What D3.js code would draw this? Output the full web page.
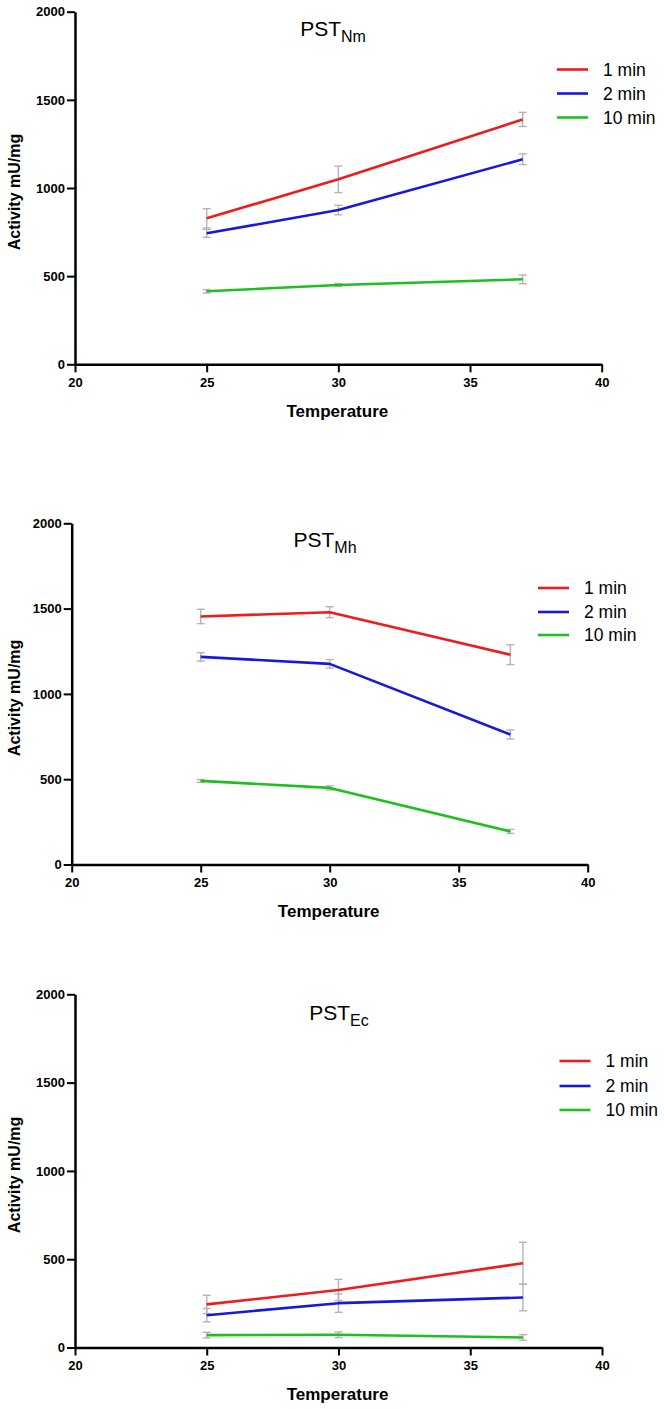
<!DOCTYPE html>
<html>
<head>
<meta charset="utf-8">
<script src="https://cdn.jsdelivr.net/npm/d3@7"></script>
<style>
  html, body { margin: 0; padding: 0; background: #fff; }
  svg { display: block; }
  text { font-family: "Liberation Sans", Arial, sans-serif; }
</style>
</head>
<body>
<svg id="chart" width="664" height="1409"></svg>
<script>
// ---- data ----
const temperatures = [25, 30, 37];
const seriesNames = ["1 min", "2 min", "10 min"];
const xTicks = [20, 25, 30, 35, 40];
const yTicks = [0, 500, 1000, 1500, 2000];
const panelTitles = ["PST", "PST", "PST"];
const panelSubscripts = ["Nm", "Mh", "Ec"];

// PST_Nm
const nm1 = [828, 1049, 1389];
const nm1Err = [55, 75, 40];
const nm2 = [743, 875, 1163];
const nm2Err = [23, 27, 30];
const nm10 = [414, 450, 482];
const nm10Err = [10, 8, 25];

// PST_Mh
const mh1 = [1454, 1479, 1230];
const mh1Err = [42, 32, 58];
const mh2 = [1217, 1176, 762];
const mh2Err = [25, 25, 26];
const mh10 = [490, 449, 194];
const mh10Err = [8, 12, 12];

// PST_Ec
const ec1 = [244, 326, 477];
const ec1Err = [52, 60, 119];
const ec2 = [183, 251, 283];
const ec2Err = [38, 52, 75];
const ec10 = [70, 72, 57];
const ec10Err = [16, 16, 16];

const panelValues = [[nm1, nm2, nm10], [mh1, mh2, mh10], [ec1, ec2, ec10]];
const panelErrors = [[nm1Err, nm2Err, nm10Err], [mh1Err, mh2Err, mh10Err], [ec1Err, ec2Err, ec10Err]];

// ---- layout / style ----
const colors = ["#ee1c1c", "#1818dc", "#1fbf1f"];
const layouts = [
  { left: 75, right: 601.7, top: 11.7, bottom: 364.3, titleX: 333, titleY: 36,
    legX: 557, legY: [69.5, 93.5, 117.5] },
  { left: 71.7, right: 587.7, top: 523.3, bottom: 864.5, titleX: 325, titleY: 547,
    legX: 538, legY: [588, 612, 635] },
  { left: 75, right: 602, top: 994.3, bottom: 1347.5, titleX: 339, titleY: 1019.5,
    legX: 559.5, legY: [1061, 1086, 1110] }
];

const svg = d3.select("#chart");

layouts.forEach((L, p) => {
  const g = svg.append("g");
  const x = d3.scaleLinear().domain([20, 40]).range([L.left, L.right]);
  const y = d3.scaleLinear().domain([0, 2000]).range([L.bottom, L.top]);

  // error bars
  panelValues[p].forEach((vals, s) => {
    const errs = panelErrors[p][s];
    const eg = g.append("g").attr("stroke", "#b4b4b4").attr("stroke-width", 1.4).attr("fill", "none");
    temperatures.forEach((t, i) => {
      const cx = x(t), y1 = y(vals[i] + errs[i]), y0 = y(vals[i] - errs[i]);
      eg.append("line").attr("x1", cx).attr("x2", cx).attr("y1", y1).attr("y2", y0);
      eg.append("line").attr("x1", cx - 4).attr("x2", cx + 4).attr("y1", y1).attr("y2", y1);
      eg.append("line").attr("x1", cx - 4).attr("x2", cx + 4).attr("y1", y0).attr("y2", y0);
    });
  });

  // lines
  const line = d3.line().x((d, i) => x(temperatures[i])).y(d => y(d));
  panelValues[p].forEach((vals, s) => {
    g.append("path").datum(vals).attr("d", line)
      .attr("fill", "none").attr("stroke", colors[s]).attr("stroke-width", 2.6)
      .attr("stroke-linejoin", "round");
  });

  // axes
  const yAxis = g.append("g").attr("transform", `translate(${L.left},0)`)
    .call(d3.axisLeft(y).tickValues(yTicks).tickFormat(d3.format("d")).tickSize(8).tickSizeOuter(0).tickPadding(2));
  const xAxis = g.append("g").attr("transform", `translate(0,${L.bottom})`)
    .call(d3.axisBottom(x).tickValues(xTicks).tickFormat(d3.format("d")).tickSize(8).tickSizeOuter(0).tickPadding(5));
  [yAxis, xAxis].forEach(a => {
    a.select(".domain").attr("stroke", "#000").attr("stroke-width", 2.5);
    a.selectAll(".tick line").attr("stroke", "#000").attr("stroke-width", 2);
    a.selectAll(".tick text").attr("fill", "#000")
      .style("font-family", "'Liberation Sans', Arial, sans-serif")
      .style("font-size", "13px").style("font-weight", "bold");
  });

  // axis titles
  const midY = (L.top + L.bottom) / 2 + 4;
  g.append("text").attr("transform", `translate(20,${midY}) rotate(-90)`)
    .attr("text-anchor", "middle").style("font-size", "16px").style("font-weight", "bold")
    .text("Activity mU/mg");
  g.append("text").attr("x", (L.left + L.right) / 2 - 1).attr("y", L.bottom + 52.5)
    .attr("text-anchor", "middle").style("font-size", "17px").style("font-weight", "bold")
    .text("Temperature");

  // title with subscript
  const t = g.append("text").attr("x", L.titleX).attr("y", L.titleY)
    .attr("text-anchor", "middle").style("font-size", "21px");
  t.append("tspan").text(panelTitles[p]);
  t.append("tspan").attr("dy", 6).style("font-size", "16px").text(panelSubscripts[p]);

  // legend
  seriesNames.forEach((name, s) => {
    g.append("line").attr("x1", L.legX).attr("x2", L.legX + 31)
      .attr("y1", L.legY[s]).attr("y2", L.legY[s])
      .attr("stroke", colors[s]).attr("stroke-width", 2.6);
    g.append("text").attr("x", L.legX + 46).attr("y", L.legY[s] + 6.3)
      .style("font-size", "17.5px").text(name);
  });
});
</script>
</body>
</html>
